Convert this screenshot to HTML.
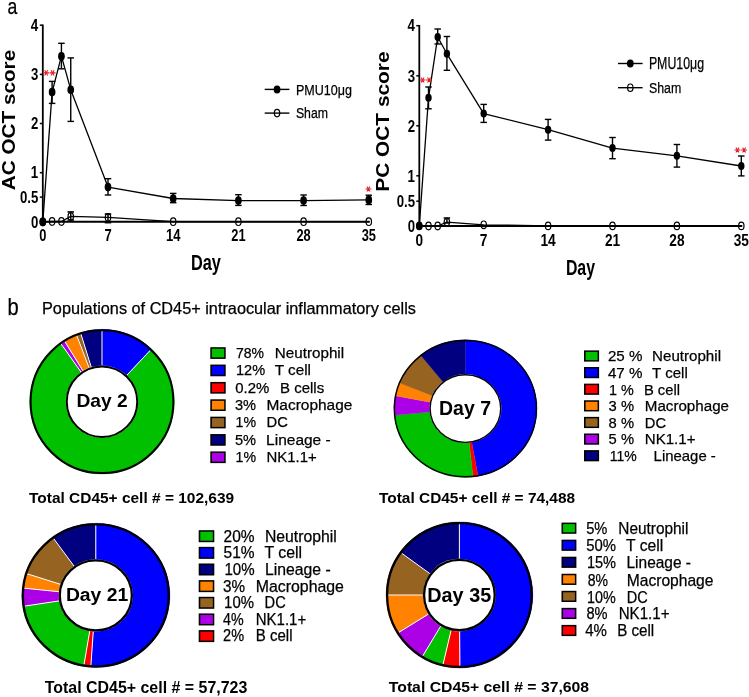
<!DOCTYPE html>
<html><head><meta charset="utf-8"><style>
html,body{margin:0;padding:0;background:#fff;}
body{width:749px;height:697px;overflow:hidden;}
svg{display:block;will-change:transform;font-family:"Liberation Sans",sans-serif;}
</style></head><body>
<svg width="749" height="697" viewBox="0 0 749 697">
<rect width="749" height="697" fill="#fff"/>
<text x="7.40" y="13.60" font-size="21.56" font-weight="normal" fill="#000" stroke="#000" stroke-width="0.25" textLength="9.79" lengthAdjust="spacingAndGlyphs">a</text>
<line x1="42.80" y1="24.50" x2="42.80" y2="222.80" stroke="#000" stroke-width="1.80" stroke-linecap="butt"/>
<line x1="39.80" y1="25.20" x2="42.80" y2="25.20" stroke="#000" stroke-width="1.50" stroke-linecap="butt"/>
<text x="30.87" y="30.95" font-size="16.72" font-weight="bold" fill="#000" textLength="7.44" lengthAdjust="spacingAndGlyphs">4</text>
<line x1="39.80" y1="74.40" x2="42.80" y2="74.40" stroke="#000" stroke-width="1.50" stroke-linecap="butt"/>
<text x="30.97" y="80.15" font-size="16.48" font-weight="bold" fill="#000" textLength="7.33" lengthAdjust="spacingAndGlyphs">3</text>
<line x1="39.80" y1="123.50" x2="42.80" y2="123.50" stroke="#000" stroke-width="1.50" stroke-linecap="butt"/>
<text x="30.97" y="129.25" font-size="16.48" font-weight="bold" fill="#000" textLength="7.33" lengthAdjust="spacingAndGlyphs">2</text>
<line x1="39.80" y1="172.70" x2="42.80" y2="172.70" stroke="#000" stroke-width="1.50" stroke-linecap="butt"/>
<text x="30.87" y="178.45" font-size="16.72" font-weight="bold" fill="#000" textLength="7.44" lengthAdjust="spacingAndGlyphs">1</text>
<line x1="39.80" y1="197.10" x2="42.80" y2="197.10" stroke="#000" stroke-width="1.50" stroke-linecap="butt"/>
<text x="19.98" y="202.85" font-size="16.48" font-weight="bold" fill="#000" textLength="18.32" lengthAdjust="spacingAndGlyphs">0.5</text>
<line x1="39.80" y1="221.80" x2="42.80" y2="221.80" stroke="#000" stroke-width="1.50" stroke-linecap="butt"/>
<text x="30.97" y="227.55" font-size="16.48" font-weight="bold" fill="#000" textLength="7.33" lengthAdjust="spacingAndGlyphs">0</text>
<line x1="42.30" y1="221.80" x2="369.79" y2="221.80" stroke="#000" stroke-width="2.00" stroke-linecap="butt"/>
<text x="39.23" y="241.00" font-size="16.05" font-weight="bold" fill="#000" textLength="7.14" lengthAdjust="spacingAndGlyphs">0</text>
<text x="104.38" y="241.00" font-size="16.28" font-weight="bold" fill="#000" textLength="7.24" lengthAdjust="spacingAndGlyphs">7</text>
<text x="165.96" y="241.00" font-size="16.28" font-weight="bold" fill="#000" textLength="14.49" lengthAdjust="spacingAndGlyphs">14</text>
<text x="231.26" y="241.00" font-size="16.05" font-weight="bold" fill="#000" textLength="14.28" lengthAdjust="spacingAndGlyphs">21</text>
<text x="296.45" y="241.00" font-size="16.05" font-weight="bold" fill="#000" textLength="14.28" lengthAdjust="spacingAndGlyphs">28</text>
<text x="361.65" y="241.00" font-size="16.05" font-weight="bold" fill="#000" textLength="14.28" lengthAdjust="spacingAndGlyphs">35</text>
<text transform="translate(15.10 190.20) rotate(-90)" x="0" y="0" font-size="18.48" font-weight="bold" fill="#000" textLength="140.41" lengthAdjust="spacingAndGlyphs">AC OCT score</text>
<text x="190.90" y="269.80" font-size="21.37" font-weight="bold" fill="#000" textLength="29.91" lengthAdjust="spacingAndGlyphs">Day</text>
<polyline points="42.80,221.80 52.11,221.50 61.43,221.50 70.74,216.40 108.00,217.40 173.20,221.70 238.39,221.70 303.59,221.70 368.79,221.70" fill="none" stroke="#000" stroke-width="1.30" stroke-linejoin="round"/>
<line x1="70.74" y1="211.90" x2="70.74" y2="220.00" stroke="#000" stroke-width="1.50" stroke-linecap="butt"/>
<line x1="67.49" y1="211.90" x2="73.99" y2="211.90" stroke="#000" stroke-width="1.50" stroke-linecap="butt"/>
<line x1="67.49" y1="220.00" x2="73.99" y2="220.00" stroke="#000" stroke-width="1.50" stroke-linecap="butt"/>
<line x1="108.00" y1="214.00" x2="108.00" y2="222.70" stroke="#000" stroke-width="1.50" stroke-linecap="butt"/>
<line x1="104.75" y1="214.00" x2="111.25" y2="214.00" stroke="#000" stroke-width="1.50" stroke-linecap="butt"/>
<line x1="104.75" y1="222.70" x2="111.25" y2="222.70" stroke="#000" stroke-width="1.50" stroke-linecap="butt"/>
<ellipse cx="42.80" cy="221.80" rx="2.70" ry="3.80" fill="none" stroke="#000" stroke-width="1.20"/>
<ellipse cx="52.11" cy="221.50" rx="2.70" ry="3.80" fill="none" stroke="#000" stroke-width="1.20"/>
<ellipse cx="61.43" cy="221.50" rx="2.70" ry="3.80" fill="none" stroke="#000" stroke-width="1.20"/>
<ellipse cx="70.74" cy="216.40" rx="2.70" ry="3.80" fill="none" stroke="#000" stroke-width="1.20"/>
<ellipse cx="108.00" cy="217.40" rx="2.70" ry="3.80" fill="none" stroke="#000" stroke-width="1.20"/>
<ellipse cx="173.20" cy="221.70" rx="2.70" ry="3.80" fill="none" stroke="#000" stroke-width="1.20"/>
<ellipse cx="238.39" cy="221.70" rx="2.70" ry="3.80" fill="none" stroke="#000" stroke-width="1.20"/>
<ellipse cx="303.59" cy="221.70" rx="2.70" ry="3.80" fill="none" stroke="#000" stroke-width="1.20"/>
<ellipse cx="368.79" cy="221.70" rx="2.70" ry="3.80" fill="none" stroke="#000" stroke-width="1.20"/>
<polyline points="42.80,221.90 52.11,92.10 61.43,56.20 70.74,89.70 108.00,187.10 173.20,198.50 238.39,200.60 303.59,200.60 368.79,199.90" fill="none" stroke="#000" stroke-width="1.30" stroke-linejoin="round"/>
<line x1="52.11" y1="81.40" x2="52.11" y2="103.40" stroke="#000" stroke-width="1.40" stroke-linecap="butt"/>
<line x1="48.86" y1="81.40" x2="55.36" y2="81.40" stroke="#000" stroke-width="1.40" stroke-linecap="butt"/>
<line x1="48.86" y1="103.40" x2="55.36" y2="103.40" stroke="#000" stroke-width="1.40" stroke-linecap="butt"/>
<line x1="61.43" y1="43.30" x2="61.43" y2="68.80" stroke="#000" stroke-width="1.40" stroke-linecap="butt"/>
<line x1="58.18" y1="43.30" x2="64.68" y2="43.30" stroke="#000" stroke-width="1.40" stroke-linecap="butt"/>
<line x1="58.18" y1="68.80" x2="64.68" y2="68.80" stroke="#000" stroke-width="1.40" stroke-linecap="butt"/>
<line x1="70.74" y1="57.90" x2="70.74" y2="121.40" stroke="#000" stroke-width="1.40" stroke-linecap="butt"/>
<line x1="67.49" y1="57.90" x2="73.99" y2="57.90" stroke="#000" stroke-width="1.40" stroke-linecap="butt"/>
<line x1="67.49" y1="121.40" x2="73.99" y2="121.40" stroke="#000" stroke-width="1.40" stroke-linecap="butt"/>
<line x1="108.00" y1="178.70" x2="108.00" y2="195.00" stroke="#000" stroke-width="1.40" stroke-linecap="butt"/>
<line x1="104.75" y1="178.70" x2="111.25" y2="178.70" stroke="#000" stroke-width="1.40" stroke-linecap="butt"/>
<line x1="104.75" y1="195.00" x2="111.25" y2="195.00" stroke="#000" stroke-width="1.40" stroke-linecap="butt"/>
<line x1="173.20" y1="193.40" x2="173.20" y2="202.70" stroke="#000" stroke-width="1.40" stroke-linecap="butt"/>
<line x1="169.95" y1="193.40" x2="176.45" y2="193.40" stroke="#000" stroke-width="1.40" stroke-linecap="butt"/>
<line x1="169.95" y1="202.70" x2="176.45" y2="202.70" stroke="#000" stroke-width="1.40" stroke-linecap="butt"/>
<line x1="238.39" y1="194.70" x2="238.39" y2="205.40" stroke="#000" stroke-width="1.40" stroke-linecap="butt"/>
<line x1="235.14" y1="194.70" x2="241.64" y2="194.70" stroke="#000" stroke-width="1.40" stroke-linecap="butt"/>
<line x1="235.14" y1="205.40" x2="241.64" y2="205.40" stroke="#000" stroke-width="1.40" stroke-linecap="butt"/>
<line x1="303.59" y1="195.00" x2="303.59" y2="205.50" stroke="#000" stroke-width="1.40" stroke-linecap="butt"/>
<line x1="300.34" y1="195.00" x2="306.84" y2="195.00" stroke="#000" stroke-width="1.40" stroke-linecap="butt"/>
<line x1="300.34" y1="205.50" x2="306.84" y2="205.50" stroke="#000" stroke-width="1.40" stroke-linecap="butt"/>
<line x1="368.79" y1="195.20" x2="368.79" y2="204.50" stroke="#000" stroke-width="1.40" stroke-linecap="butt"/>
<line x1="365.54" y1="195.20" x2="372.04" y2="195.20" stroke="#000" stroke-width="1.40" stroke-linecap="butt"/>
<line x1="365.54" y1="204.50" x2="372.04" y2="204.50" stroke="#000" stroke-width="1.40" stroke-linecap="butt"/>
<ellipse cx="42.80" cy="221.90" rx="3.35" ry="4.30" fill="#000" stroke="none" stroke-width="0.00"/>
<ellipse cx="52.11" cy="92.10" rx="3.35" ry="4.30" fill="#000" stroke="none" stroke-width="0.00"/>
<ellipse cx="61.43" cy="56.20" rx="3.35" ry="4.30" fill="#000" stroke="none" stroke-width="0.00"/>
<ellipse cx="70.74" cy="89.70" rx="3.35" ry="4.30" fill="#000" stroke="none" stroke-width="0.00"/>
<ellipse cx="108.00" cy="187.10" rx="3.35" ry="4.30" fill="#000" stroke="none" stroke-width="0.00"/>
<ellipse cx="173.20" cy="198.50" rx="3.35" ry="4.30" fill="#000" stroke="none" stroke-width="0.00"/>
<ellipse cx="238.39" cy="200.60" rx="3.35" ry="4.30" fill="#000" stroke="none" stroke-width="0.00"/>
<ellipse cx="303.59" cy="200.60" rx="3.35" ry="4.30" fill="#000" stroke="none" stroke-width="0.00"/>
<ellipse cx="368.79" cy="199.90" rx="3.35" ry="4.30" fill="#000" stroke="none" stroke-width="0.00"/>
<line x1="264.70" y1="89.40" x2="289.40" y2="89.40" stroke="#000" stroke-width="1.40" stroke-linecap="butt"/>
<ellipse cx="277.05" cy="89.40" rx="3.40" ry="4.00" fill="#000" stroke="none" stroke-width="0.00"/>
<line x1="264.70" y1="113.10" x2="289.40" y2="113.10" stroke="#000" stroke-width="1.40" stroke-linecap="butt"/>
<ellipse cx="277.05" cy="113.10" rx="2.70" ry="3.70" fill="none" stroke="#000" stroke-width="1.20"/>
<text x="295.90" y="94.80" font-size="15.47" font-weight="normal" fill="#000" stroke="#000" stroke-width="0.25" textLength="56.10" lengthAdjust="spacingAndGlyphs">PMU10μg</text>
<text x="295.90" y="118.00" font-size="14.62" font-weight="normal" fill="#000" stroke="#000" stroke-width="0.25" textLength="32.10" lengthAdjust="spacingAndGlyphs">Sham</text>
<path d="M43.20 72.90L49.20 72.90M44.70 70.30L47.70 75.50M47.70 70.30L44.70 75.50" stroke="#e41e26" stroke-width="1.10" fill="none"/>
<path d="M49.60 72.90L55.60 72.90M51.10 70.30L54.10 75.50M54.10 70.30L51.10 75.50" stroke="#e41e26" stroke-width="1.10" fill="none"/>
<path d="M365.40 189.00L371.40 189.00M366.90 186.40L369.90 191.60M369.90 186.40L366.90 191.60" stroke="#e41e26" stroke-width="1.10" fill="none"/>
<line x1="419.30" y1="25.00" x2="419.30" y2="226.90" stroke="#000" stroke-width="1.80" stroke-linecap="butt"/>
<line x1="416.30" y1="25.70" x2="419.30" y2="25.70" stroke="#000" stroke-width="1.50" stroke-linecap="butt"/>
<text x="407.57" y="31.45" font-size="16.72" font-weight="bold" fill="#000" textLength="7.44" lengthAdjust="spacingAndGlyphs">4</text>
<line x1="416.30" y1="75.80" x2="419.30" y2="75.80" stroke="#000" stroke-width="1.50" stroke-linecap="butt"/>
<text x="407.67" y="81.55" font-size="16.48" font-weight="bold" fill="#000" textLength="7.33" lengthAdjust="spacingAndGlyphs">3</text>
<line x1="416.30" y1="125.80" x2="419.30" y2="125.80" stroke="#000" stroke-width="1.50" stroke-linecap="butt"/>
<text x="407.67" y="131.55" font-size="16.48" font-weight="bold" fill="#000" textLength="7.33" lengthAdjust="spacingAndGlyphs">2</text>
<line x1="416.30" y1="175.80" x2="419.30" y2="175.80" stroke="#000" stroke-width="1.50" stroke-linecap="butt"/>
<text x="407.57" y="181.55" font-size="16.72" font-weight="bold" fill="#000" textLength="7.44" lengthAdjust="spacingAndGlyphs">1</text>
<line x1="416.30" y1="201.20" x2="419.30" y2="201.20" stroke="#000" stroke-width="1.50" stroke-linecap="butt"/>
<text x="396.68" y="206.95" font-size="16.48" font-weight="bold" fill="#000" textLength="18.32" lengthAdjust="spacingAndGlyphs">0.5</text>
<line x1="416.30" y1="225.90" x2="419.30" y2="225.90" stroke="#000" stroke-width="1.50" stroke-linecap="butt"/>
<text x="407.67" y="231.65" font-size="16.48" font-weight="bold" fill="#000" textLength="7.33" lengthAdjust="spacingAndGlyphs">0</text>
<line x1="418.80" y1="225.90" x2="742.30" y2="225.90" stroke="#000" stroke-width="2.00" stroke-linecap="butt"/>
<text x="415.51" y="245.90" font-size="17.05" font-weight="bold" fill="#000" textLength="7.59" lengthAdjust="spacingAndGlyphs">0</text>
<text x="479.85" y="245.90" font-size="17.30" font-weight="bold" fill="#000" textLength="7.70" lengthAdjust="spacingAndGlyphs">7</text>
<text x="540.41" y="245.90" font-size="17.30" font-weight="bold" fill="#000" textLength="15.39" lengthAdjust="spacingAndGlyphs">14</text>
<text x="604.92" y="245.90" font-size="17.05" font-weight="bold" fill="#000" textLength="15.17" lengthAdjust="spacingAndGlyphs">21</text>
<text x="669.32" y="245.90" font-size="17.05" font-weight="bold" fill="#000" textLength="15.17" lengthAdjust="spacingAndGlyphs">28</text>
<text x="733.72" y="245.90" font-size="17.05" font-weight="bold" fill="#000" textLength="15.17" lengthAdjust="spacingAndGlyphs">35</text>
<text transform="translate(388.80 191.70) rotate(-90)" x="0" y="0" font-size="17.77" font-weight="bold" fill="#000" textLength="140.30" lengthAdjust="spacingAndGlyphs">PC OCT score</text>
<text x="565.90" y="274.70" font-size="22.09" font-weight="bold" fill="#000" textLength="29.11" lengthAdjust="spacingAndGlyphs">Day</text>
<polyline points="419.30,225.90 428.50,226.00 437.70,226.00 446.90,222.10 483.70,224.80 548.10,225.90 612.50,225.90 676.90,225.90 741.30,225.90" fill="none" stroke="#000" stroke-width="1.30" stroke-linejoin="round"/>
<line x1="446.90" y1="218.00" x2="446.90" y2="223.00" stroke="#000" stroke-width="1.50" stroke-linecap="butt"/>
<line x1="443.65" y1="218.00" x2="450.15" y2="218.00" stroke="#000" stroke-width="1.50" stroke-linecap="butt"/>
<line x1="443.65" y1="223.00" x2="450.15" y2="223.00" stroke="#000" stroke-width="1.50" stroke-linecap="butt"/>
<ellipse cx="419.30" cy="225.90" rx="2.70" ry="3.80" fill="none" stroke="#000" stroke-width="1.20"/>
<ellipse cx="428.50" cy="226.00" rx="2.70" ry="3.80" fill="none" stroke="#000" stroke-width="1.20"/>
<ellipse cx="437.70" cy="226.00" rx="2.70" ry="3.80" fill="none" stroke="#000" stroke-width="1.20"/>
<ellipse cx="446.90" cy="222.10" rx="2.70" ry="3.80" fill="none" stroke="#000" stroke-width="1.20"/>
<ellipse cx="483.70" cy="224.80" rx="2.70" ry="3.80" fill="none" stroke="#000" stroke-width="1.20"/>
<ellipse cx="548.10" cy="225.90" rx="2.70" ry="3.80" fill="none" stroke="#000" stroke-width="1.20"/>
<ellipse cx="612.50" cy="225.90" rx="2.70" ry="3.80" fill="none" stroke="#000" stroke-width="1.20"/>
<ellipse cx="676.90" cy="225.90" rx="2.70" ry="3.80" fill="none" stroke="#000" stroke-width="1.20"/>
<ellipse cx="741.30" cy="225.90" rx="2.70" ry="3.80" fill="none" stroke="#000" stroke-width="1.20"/>
<polyline points="419.30,226.00 428.50,97.80 437.70,37.00 446.90,53.80 483.70,113.60 548.10,129.70 612.50,148.10 676.90,155.80 741.30,166.00" fill="none" stroke="#000" stroke-width="1.30" stroke-linejoin="round"/>
<line x1="428.50" y1="87.00" x2="428.50" y2="108.80" stroke="#000" stroke-width="1.40" stroke-linecap="butt"/>
<line x1="425.25" y1="87.00" x2="431.75" y2="87.00" stroke="#000" stroke-width="1.40" stroke-linecap="butt"/>
<line x1="425.25" y1="108.80" x2="431.75" y2="108.80" stroke="#000" stroke-width="1.40" stroke-linecap="butt"/>
<line x1="437.70" y1="29.00" x2="437.70" y2="44.00" stroke="#000" stroke-width="1.40" stroke-linecap="butt"/>
<line x1="434.45" y1="29.00" x2="440.95" y2="29.00" stroke="#000" stroke-width="1.40" stroke-linecap="butt"/>
<line x1="434.45" y1="44.00" x2="440.95" y2="44.00" stroke="#000" stroke-width="1.40" stroke-linecap="butt"/>
<line x1="446.90" y1="36.50" x2="446.90" y2="70.30" stroke="#000" stroke-width="1.40" stroke-linecap="butt"/>
<line x1="443.65" y1="36.50" x2="450.15" y2="36.50" stroke="#000" stroke-width="1.40" stroke-linecap="butt"/>
<line x1="443.65" y1="70.30" x2="450.15" y2="70.30" stroke="#000" stroke-width="1.40" stroke-linecap="butt"/>
<line x1="483.70" y1="104.40" x2="483.70" y2="122.40" stroke="#000" stroke-width="1.40" stroke-linecap="butt"/>
<line x1="480.45" y1="104.40" x2="486.95" y2="104.40" stroke="#000" stroke-width="1.40" stroke-linecap="butt"/>
<line x1="480.45" y1="122.40" x2="486.95" y2="122.40" stroke="#000" stroke-width="1.40" stroke-linecap="butt"/>
<line x1="548.10" y1="119.40" x2="548.10" y2="140.10" stroke="#000" stroke-width="1.40" stroke-linecap="butt"/>
<line x1="544.85" y1="119.40" x2="551.35" y2="119.40" stroke="#000" stroke-width="1.40" stroke-linecap="butt"/>
<line x1="544.85" y1="140.10" x2="551.35" y2="140.10" stroke="#000" stroke-width="1.40" stroke-linecap="butt"/>
<line x1="612.50" y1="137.50" x2="612.50" y2="158.70" stroke="#000" stroke-width="1.40" stroke-linecap="butt"/>
<line x1="609.25" y1="137.50" x2="615.75" y2="137.50" stroke="#000" stroke-width="1.40" stroke-linecap="butt"/>
<line x1="609.25" y1="158.70" x2="615.75" y2="158.70" stroke="#000" stroke-width="1.40" stroke-linecap="butt"/>
<line x1="676.90" y1="144.50" x2="676.90" y2="167.10" stroke="#000" stroke-width="1.40" stroke-linecap="butt"/>
<line x1="673.65" y1="144.50" x2="680.15" y2="144.50" stroke="#000" stroke-width="1.40" stroke-linecap="butt"/>
<line x1="673.65" y1="167.10" x2="680.15" y2="167.10" stroke="#000" stroke-width="1.40" stroke-linecap="butt"/>
<line x1="741.30" y1="156.00" x2="741.30" y2="175.90" stroke="#000" stroke-width="1.40" stroke-linecap="butt"/>
<line x1="738.05" y1="156.00" x2="744.55" y2="156.00" stroke="#000" stroke-width="1.40" stroke-linecap="butt"/>
<line x1="738.05" y1="175.90" x2="744.55" y2="175.90" stroke="#000" stroke-width="1.40" stroke-linecap="butt"/>
<ellipse cx="419.30" cy="226.00" rx="3.20" ry="4.00" fill="#000" stroke="none" stroke-width="0.00"/>
<ellipse cx="428.50" cy="97.80" rx="3.20" ry="4.00" fill="#000" stroke="none" stroke-width="0.00"/>
<ellipse cx="437.70" cy="37.00" rx="3.20" ry="4.00" fill="#000" stroke="none" stroke-width="0.00"/>
<ellipse cx="446.90" cy="53.80" rx="3.20" ry="4.00" fill="#000" stroke="none" stroke-width="0.00"/>
<ellipse cx="483.70" cy="113.60" rx="3.20" ry="4.00" fill="#000" stroke="none" stroke-width="0.00"/>
<ellipse cx="548.10" cy="129.70" rx="3.20" ry="4.00" fill="#000" stroke="none" stroke-width="0.00"/>
<ellipse cx="612.50" cy="148.10" rx="3.20" ry="4.00" fill="#000" stroke="none" stroke-width="0.00"/>
<ellipse cx="676.90" cy="155.80" rx="3.20" ry="4.00" fill="#000" stroke="none" stroke-width="0.00"/>
<ellipse cx="741.30" cy="166.00" rx="3.20" ry="4.00" fill="#000" stroke="none" stroke-width="0.00"/>
<line x1="618.00" y1="63.50" x2="642.60" y2="63.50" stroke="#000" stroke-width="1.40" stroke-linecap="butt"/>
<ellipse cx="630.30" cy="63.50" rx="3.40" ry="4.00" fill="#000" stroke="none" stroke-width="0.00"/>
<line x1="618.00" y1="87.70" x2="642.60" y2="87.70" stroke="#000" stroke-width="1.40" stroke-linecap="butt"/>
<ellipse cx="630.30" cy="87.70" rx="2.70" ry="3.70" fill="none" stroke="#000" stroke-width="1.20"/>
<text x="648.90" y="68.60" font-size="15.76" font-weight="normal" fill="#000" stroke="#000" stroke-width="0.25" textLength="55.10" lengthAdjust="spacingAndGlyphs">PMU10μg</text>
<text x="648.90" y="92.90" font-size="15.31" font-weight="normal" fill="#000" stroke="#000" stroke-width="0.25" textLength="32.30" lengthAdjust="spacingAndGlyphs">Sham</text>
<path d="M419.60 80.00L425.60 80.00M421.10 77.40L424.10 82.60M424.10 77.40L421.10 82.60" stroke="#e41e26" stroke-width="1.10" fill="none"/>
<path d="M426.00 80.00L432.00 80.00M427.50 77.40L430.50 82.60M430.50 77.40L427.50 82.60" stroke="#e41e26" stroke-width="1.10" fill="none"/>
<path d="M734.40 150.00L740.40 150.00M735.90 147.40L738.90 152.60M738.90 147.40L735.90 152.60" stroke="#e41e26" stroke-width="1.10" fill="none"/>
<path d="M741.10 150.00L747.10 150.00M742.60 147.40L745.60 152.60M745.60 147.40L742.60 152.60" stroke="#e41e26" stroke-width="1.10" fill="none"/>
<text x="7.50" y="314.80" font-size="24.00" font-weight="normal" fill="#000" stroke="#000" stroke-width="0.25" textLength="11.20" lengthAdjust="spacingAndGlyphs">b</text>
<text x="42.00" y="313.50" font-size="16.28" font-weight="normal" fill="#000" stroke="#000" stroke-width="0.25" textLength="373.90" lengthAdjust="spacingAndGlyphs">Populations of CD45+ intraocular inflammatory cells</text>
<path d="M102.000 329.300A72.400 72.400 0 0 1 151.561 348.923L126.815 375.275A36.250 36.250 0 0 0 102.000 365.450Z" fill="#0000ff" stroke="#0000ff" stroke-width="0.3"/>
<path d="M151.561 348.923A72.400 72.400 0 1 1 60.184 342.597L81.063 372.108A36.250 36.250 0 1 0 126.815 375.275Z" fill="#00c000" stroke="#00c000" stroke-width="0.3"/>
<path d="M60.184 342.597A72.400 72.400 0 0 1 63.977 340.088L82.962 370.851A36.250 36.250 0 0 0 81.063 372.108Z" fill="#ac00e6" stroke="#ac00e6" stroke-width="0.3"/>
<path d="M63.977 340.088A72.400 72.400 0 0 1 76.196 334.055L89.080 367.831A36.250 36.250 0 0 0 82.962 370.851Z" fill="#ff8200" stroke="#ff8200" stroke-width="0.3"/>
<path d="M76.196 334.055A72.400 72.400 0 0 1 80.494 332.568L91.232 367.086A36.250 36.250 0 0 0 89.080 367.831Z" fill="#966420" stroke="#966420" stroke-width="0.3"/>
<path d="M80.494 332.568A72.400 72.400 0 0 1 102.910 329.306L102.456 365.453A36.250 36.250 0 0 0 91.232 367.086Z" fill="#000080" stroke="#000080" stroke-width="0.3"/>
<line x1="102.00" y1="329.30" x2="102.00" y2="365.45" stroke="#fff" stroke-width="1.00" stroke-linecap="butt"/>
<line x1="151.56" y1="348.92" x2="126.81" y2="375.27" stroke="#fff" stroke-width="1.00" stroke-linecap="butt"/>
<line x1="60.18" y1="342.60" x2="81.06" y2="372.11" stroke="#fff" stroke-width="1.00" stroke-linecap="butt"/>
<line x1="63.98" y1="340.09" x2="82.96" y2="370.85" stroke="#fff" stroke-width="1.00" stroke-linecap="butt"/>
<line x1="76.20" y1="334.05" x2="89.08" y2="367.83" stroke="#fff" stroke-width="1.00" stroke-linecap="butt"/>
<line x1="80.49" y1="332.57" x2="91.23" y2="367.09" stroke="#fff" stroke-width="1.00" stroke-linecap="butt"/>
<ellipse cx="102.00" cy="401.70" rx="71.40" ry="71.40" fill="none" stroke="#000" stroke-width="2.00"/>
<ellipse cx="102.00" cy="401.70" rx="35.25" ry="35.25" fill="#fff" stroke="#000" stroke-width="2.00"/>
<text x="76.50" y="407.30" font-size="18.91" font-weight="bold" fill="#000" textLength="51.21" lengthAdjust="spacingAndGlyphs">Day 2</text>
<rect x="210.30" y="347.20" width="15.40" height="11.70" fill="#000"/>
<rect x="211.90" y="348.70" width="12.30" height="8.70" fill="#00c000"/>
<text x="236.00" y="357.80" font-size="15.04" font-weight="normal" fill="#000" stroke="#000" stroke-width="0.25" textLength="28.01" lengthAdjust="spacingAndGlyphs">78%</text>
<text x="274.80" y="357.80" font-size="15.04" font-weight="normal" fill="#000" stroke="#000" stroke-width="0.25" textLength="69.30" lengthAdjust="spacingAndGlyphs">Neutrophil</text>
<rect x="210.30" y="364.57" width="15.40" height="11.70" fill="#000"/>
<rect x="211.90" y="366.07" width="12.30" height="8.70" fill="#0000ff"/>
<text x="236.00" y="375.40" font-size="15.04" font-weight="normal" fill="#000" stroke="#000" stroke-width="0.25" textLength="29.11" lengthAdjust="spacingAndGlyphs">12%</text>
<text x="274.80" y="375.40" font-size="15.04" font-weight="normal" fill="#000" stroke="#000" stroke-width="0.25" textLength="36.20" lengthAdjust="spacingAndGlyphs">T cell</text>
<rect x="210.30" y="381.94" width="15.40" height="11.70" fill="#000"/>
<rect x="211.90" y="383.44" width="12.30" height="8.70" fill="#ff0000"/>
<text x="235.30" y="392.60" font-size="15.04" font-weight="normal" fill="#000" stroke="#000" stroke-width="0.25" textLength="34.00" lengthAdjust="spacingAndGlyphs">0.2%</text>
<text x="280.00" y="392.60" font-size="15.04" font-weight="normal" fill="#000" stroke="#000" stroke-width="0.25" textLength="44.20" lengthAdjust="spacingAndGlyphs">B cells</text>
<rect x="210.30" y="399.31" width="15.40" height="11.70" fill="#000"/>
<rect x="211.90" y="400.81" width="12.30" height="8.70" fill="#ff8200"/>
<text x="234.90" y="410.20" font-size="15.04" font-weight="normal" fill="#000" stroke="#000" stroke-width="0.25" textLength="21.10" lengthAdjust="spacingAndGlyphs">3%</text>
<text x="266.50" y="410.20" font-size="15.04" font-weight="normal" fill="#000" stroke="#000" stroke-width="0.25" textLength="85.90" lengthAdjust="spacingAndGlyphs">Macrophage</text>
<rect x="210.30" y="416.68" width="15.40" height="11.70" fill="#000"/>
<rect x="211.90" y="418.18" width="12.30" height="8.70" fill="#966420"/>
<text x="235.50" y="427.40" font-size="15.13" font-weight="normal" fill="#000" stroke="#000" stroke-width="0.25" textLength="20.50" lengthAdjust="spacingAndGlyphs">1%</text>
<text x="266.50" y="427.40" font-size="15.13" font-weight="normal" fill="#000" stroke="#000" stroke-width="0.25" textLength="21.31" lengthAdjust="spacingAndGlyphs">DC</text>
<rect x="210.30" y="434.05" width="15.40" height="11.70" fill="#000"/>
<rect x="211.90" y="435.55" width="12.30" height="8.70" fill="#000080"/>
<text x="234.90" y="444.60" font-size="15.13" font-weight="normal" fill="#000" stroke="#000" stroke-width="0.25" textLength="21.10" lengthAdjust="spacingAndGlyphs">5%</text>
<text x="266.10" y="444.60" font-size="15.13" font-weight="normal" fill="#000" stroke="#000" stroke-width="0.25" textLength="64.60" lengthAdjust="spacingAndGlyphs">Lineage -</text>
<rect x="210.30" y="451.42" width="15.40" height="11.70" fill="#000"/>
<rect x="211.90" y="452.92" width="12.30" height="8.70" fill="#ac00e6"/>
<text x="235.50" y="462.00" font-size="15.13" font-weight="normal" fill="#000" stroke="#000" stroke-width="0.25" textLength="20.50" lengthAdjust="spacingAndGlyphs">1%</text>
<text x="266.50" y="462.00" font-size="15.13" font-weight="normal" fill="#000" stroke="#000" stroke-width="0.25" textLength="50.30" lengthAdjust="spacingAndGlyphs">NK1.1+</text>
<text x="29.00" y="503.10" font-size="15.03" font-weight="bold" fill="#000" textLength="205.10" lengthAdjust="spacingAndGlyphs">Total CD45+ cell # = 102,639</text>
<path d="M465.400 339.750A71.700 68.850 0 0 1 478.097 476.362L471.775 442.555A36.000 34.500 0 0 0 465.400 374.100Z" fill="#0000ff" stroke="#0000ff" stroke-width="0.3"/>
<path d="M478.097 476.362A71.700 68.850 0 0 1 473.019 477.060L469.226 442.905A36.000 34.500 0 0 0 471.775 442.555Z" fill="#ff0000" stroke="#ff0000" stroke-width="0.3"/>
<path d="M473.019 477.060A71.700 68.850 0 0 1 394.042 415.319L429.572 411.967A36.000 34.500 0 0 0 469.226 442.905Z" fill="#00c000" stroke="#00c000" stroke-width="0.3"/>
<path d="M394.042 415.319A71.700 68.850 0 0 1 394.970 395.699L430.038 402.135A36.000 34.500 0 0 0 429.572 411.967Z" fill="#ac00e6" stroke="#ac00e6" stroke-width="0.3"/>
<path d="M394.970 395.699A71.700 68.850 0 0 1 398.921 382.808L432.021 395.676A36.000 34.500 0 0 0 430.038 402.135Z" fill="#ff8200" stroke="#ff8200" stroke-width="0.3"/>
<path d="M398.921 382.808A71.700 68.850 0 0 1 420.473 354.943L442.842 381.713A36.000 34.500 0 0 0 432.021 395.676Z" fill="#966420" stroke="#966420" stroke-width="0.3"/>
<path d="M420.473 354.943A71.700 68.850 0 0 1 465.400 339.750L465.400 374.100A36.000 34.500 0 0 0 442.842 381.713Z" fill="#000080" stroke="#000080" stroke-width="0.3"/>
<ellipse cx="465.40" cy="408.60" rx="71.00" ry="68.15" fill="none" stroke="#000" stroke-width="1.40"/>
<ellipse cx="465.40" cy="408.60" rx="35.30" ry="33.80" fill="#fff" stroke="#000" stroke-width="1.40"/>
<text x="439.00" y="414.50" font-size="19.33" font-weight="bold" fill="#000" textLength="52.01" lengthAdjust="spacingAndGlyphs">Day 7</text>
<rect x="584.00" y="350.40" width="15.10" height="11.20" fill="#000"/>
<rect x="585.60" y="351.90" width="12.00" height="8.20" fill="#00c000"/>
<text x="607.90" y="361.20" font-size="15.47" font-weight="normal" fill="#000" stroke="#000" stroke-width="0.25" textLength="34.50" lengthAdjust="spacingAndGlyphs">25 %</text>
<text x="652.10" y="361.20" font-size="15.47" font-weight="normal" fill="#000" stroke="#000" stroke-width="0.25" textLength="68.90" lengthAdjust="spacingAndGlyphs">Neutrophil</text>
<rect x="584.00" y="367.02" width="15.10" height="11.20" fill="#000"/>
<rect x="585.60" y="368.52" width="12.00" height="8.20" fill="#0000ff"/>
<text x="607.90" y="377.85" font-size="15.56" font-weight="normal" fill="#000" stroke="#000" stroke-width="0.25" textLength="34.50" lengthAdjust="spacingAndGlyphs">47 %</text>
<text x="652.10" y="377.85" font-size="15.56" font-weight="normal" fill="#000" stroke="#000" stroke-width="0.25" textLength="35.70" lengthAdjust="spacingAndGlyphs">T cell</text>
<rect x="584.00" y="383.64" width="15.10" height="11.20" fill="#000"/>
<rect x="585.60" y="385.14" width="12.00" height="8.20" fill="#ff0000"/>
<text x="609.00" y="394.50" font-size="15.56" font-weight="normal" fill="#000" stroke="#000" stroke-width="0.25" textLength="24.70" lengthAdjust="spacingAndGlyphs">1 %</text>
<text x="643.90" y="394.50" font-size="15.56" font-weight="normal" fill="#000" stroke="#000" stroke-width="0.25" textLength="36.10" lengthAdjust="spacingAndGlyphs">B cell</text>
<rect x="584.00" y="400.26" width="15.10" height="11.20" fill="#000"/>
<rect x="585.60" y="401.76" width="12.00" height="8.20" fill="#ff8200"/>
<text x="608.60" y="411.15" font-size="15.47" font-weight="normal" fill="#000" stroke="#000" stroke-width="0.25" textLength="25.40" lengthAdjust="spacingAndGlyphs">3 %</text>
<text x="644.80" y="411.15" font-size="15.47" font-weight="normal" fill="#000" stroke="#000" stroke-width="0.25" textLength="84.20" lengthAdjust="spacingAndGlyphs">Macrophage</text>
<rect x="584.00" y="416.88" width="15.10" height="11.20" fill="#000"/>
<rect x="585.60" y="418.38" width="12.00" height="8.20" fill="#966420"/>
<text x="608.60" y="427.80" font-size="15.47" font-weight="normal" fill="#000" stroke="#000" stroke-width="0.25" textLength="25.40" lengthAdjust="spacingAndGlyphs">8 %</text>
<text x="644.80" y="427.80" font-size="15.47" font-weight="normal" fill="#000" stroke="#000" stroke-width="0.25" textLength="21.21" lengthAdjust="spacingAndGlyphs">DC</text>
<rect x="584.00" y="433.50" width="15.10" height="11.20" fill="#000"/>
<rect x="585.60" y="435.00" width="12.00" height="8.20" fill="#ac00e6"/>
<text x="608.60" y="444.45" font-size="15.56" font-weight="normal" fill="#000" stroke="#000" stroke-width="0.25" textLength="25.40" lengthAdjust="spacingAndGlyphs">5 %</text>
<text x="644.80" y="444.45" font-size="15.56" font-weight="normal" fill="#000" stroke="#000" stroke-width="0.25" textLength="50.70" lengthAdjust="spacingAndGlyphs">NK1.1+</text>
<rect x="584.00" y="450.12" width="15.10" height="11.20" fill="#000"/>
<rect x="585.60" y="451.62" width="12.00" height="8.20" fill="#000080"/>
<text x="609.80" y="461.10" font-size="15.56" font-weight="normal" fill="#000" stroke="#000" stroke-width="0.25" textLength="27.00" lengthAdjust="spacingAndGlyphs">11%</text>
<text x="653.60" y="461.10" font-size="15.56" font-weight="normal" fill="#000" stroke="#000" stroke-width="0.25" textLength="62.20" lengthAdjust="spacingAndGlyphs">Lineage -</text>
<text x="379.00" y="503.40" font-size="14.62" font-weight="bold" fill="#000" textLength="196.10" lengthAdjust="spacingAndGlyphs">Total CD45+ cell # = 74,488</text>
<path d="M95.800 523.300A74.100 72.100 0 1 1 90.760 667.333L93.270 631.466A37.200 36.150 0 1 0 95.800 559.250Z" fill="#0000ff" stroke="#0000ff" stroke-width="0.3"/>
<path d="M90.760 667.333A74.100 72.100 0 0 1 83.698 666.532L89.724 631.065A37.200 36.150 0 0 0 93.270 631.466Z" fill="#ff0000" stroke="#ff0000" stroke-width="0.3"/>
<path d="M83.698 666.532A74.100 72.100 0 0 1 22.572 606.430L59.038 600.930A37.200 36.150 0 0 0 89.724 631.065Z" fill="#00c000" stroke="#00c000" stroke-width="0.3"/>
<path d="M22.572 606.430A74.100 72.100 0 0 1 22.093 587.989L58.797 591.684A37.200 36.150 0 0 0 59.038 600.930Z" fill="#ac00e6" stroke="#ac00e6" stroke-width="0.3"/>
<path d="M22.093 587.989A74.100 72.100 0 0 1 25.287 573.240L60.401 584.289A37.200 36.150 0 0 0 58.797 591.684Z" fill="#ff8200" stroke="#ff8200" stroke-width="0.3"/>
<path d="M25.287 573.240A74.100 72.100 0 0 1 52.455 536.922L74.040 566.080A37.200 36.150 0 0 0 60.401 584.289Z" fill="#966420" stroke="#966420" stroke-width="0.3"/>
<path d="M52.455 536.922A74.100 72.100 0 0 1 95.800 523.300L95.800 559.250A37.200 36.150 0 0 0 74.040 566.080Z" fill="#000080" stroke="#000080" stroke-width="0.3"/>
<line x1="95.80" y1="523.30" x2="95.80" y2="559.25" stroke="#fff" stroke-width="1.00" stroke-linecap="butt"/>
<line x1="90.76" y1="667.33" x2="93.27" y2="631.47" stroke="#fff" stroke-width="1.00" stroke-linecap="butt"/>
<line x1="83.70" y1="666.53" x2="89.72" y2="631.06" stroke="#fff" stroke-width="1.00" stroke-linecap="butt"/>
<line x1="22.57" y1="606.43" x2="59.04" y2="600.93" stroke="#fff" stroke-width="1.00" stroke-linecap="butt"/>
<line x1="22.09" y1="587.99" x2="58.80" y2="591.68" stroke="#fff" stroke-width="1.00" stroke-linecap="butt"/>
<line x1="25.29" y1="573.24" x2="60.40" y2="584.29" stroke="#fff" stroke-width="1.00" stroke-linecap="butt"/>
<line x1="52.45" y1="536.92" x2="74.04" y2="566.08" stroke="#fff" stroke-width="1.00" stroke-linecap="butt"/>
<ellipse cx="95.80" cy="595.40" rx="72.95" ry="70.95" fill="none" stroke="#000" stroke-width="2.30"/>
<ellipse cx="95.80" cy="595.40" rx="36.05" ry="35.00" fill="#fff" stroke="#000" stroke-width="2.30"/>
<text x="65.90" y="601.30" font-size="19.20" font-weight="bold" fill="#000" textLength="62.29" lengthAdjust="spacingAndGlyphs">Day 21</text>
<rect x="198.70" y="530.20" width="15.60" height="12.00" fill="#000"/>
<rect x="200.30" y="531.70" width="12.50" height="9.00" fill="#00c000"/>
<text x="223.60" y="541.80" font-size="15.62" font-weight="normal" fill="#000" stroke="#000" stroke-width="0.25" textLength="31.01" lengthAdjust="spacingAndGlyphs">20%</text>
<text x="264.90" y="541.80" font-size="15.62" font-weight="normal" fill="#000" stroke="#000" stroke-width="0.25" textLength="71.80" lengthAdjust="spacingAndGlyphs">Neutrophil</text>
<rect x="198.70" y="546.85" width="15.60" height="12.00" fill="#000"/>
<rect x="200.30" y="548.35" width="12.50" height="9.00" fill="#0000ff"/>
<text x="223.60" y="558.40" font-size="15.71" font-weight="normal" fill="#000" stroke="#000" stroke-width="0.25" textLength="31.01" lengthAdjust="spacingAndGlyphs">51%</text>
<text x="264.50" y="558.40" font-size="15.71" font-weight="normal" fill="#000" stroke="#000" stroke-width="0.25" textLength="37.60" lengthAdjust="spacingAndGlyphs">T cell</text>
<rect x="198.70" y="563.50" width="15.60" height="12.00" fill="#000"/>
<rect x="200.30" y="565.00" width="12.50" height="9.00" fill="#000080"/>
<text x="224.50" y="574.90" font-size="15.62" font-weight="normal" fill="#000" stroke="#000" stroke-width="0.25" textLength="30.11" lengthAdjust="spacingAndGlyphs">10%</text>
<text x="264.90" y="574.90" font-size="15.62" font-weight="normal" fill="#000" stroke="#000" stroke-width="0.25" textLength="65.80" lengthAdjust="spacingAndGlyphs">Lineage -</text>
<rect x="198.70" y="580.15" width="15.60" height="12.00" fill="#000"/>
<rect x="200.30" y="581.65" width="12.50" height="9.00" fill="#ff8200"/>
<text x="223.10" y="591.50" font-size="15.62" font-weight="normal" fill="#000" stroke="#000" stroke-width="0.25" textLength="22.00" lengthAdjust="spacingAndGlyphs">3%</text>
<text x="255.80" y="591.50" font-size="15.62" font-weight="normal" fill="#000" stroke="#000" stroke-width="0.25" textLength="88.10" lengthAdjust="spacingAndGlyphs">Macrophage</text>
<rect x="198.70" y="596.80" width="15.60" height="12.00" fill="#000"/>
<rect x="200.30" y="598.30" width="12.50" height="9.00" fill="#966420"/>
<text x="224.10" y="608.00" font-size="15.62" font-weight="normal" fill="#000" stroke="#000" stroke-width="0.25" textLength="29.81" lengthAdjust="spacingAndGlyphs">10%</text>
<text x="264.60" y="608.00" font-size="15.62" font-weight="normal" fill="#000" stroke="#000" stroke-width="0.25" textLength="21.11" lengthAdjust="spacingAndGlyphs">DC</text>
<rect x="198.70" y="613.45" width="15.60" height="12.00" fill="#000"/>
<rect x="200.30" y="614.95" width="12.50" height="9.00" fill="#ac00e6"/>
<text x="223.10" y="624.60" font-size="15.71" font-weight="normal" fill="#000" stroke="#000" stroke-width="0.25" textLength="20.60" lengthAdjust="spacingAndGlyphs">4%</text>
<text x="255.80" y="624.60" font-size="15.71" font-weight="normal" fill="#000" stroke="#000" stroke-width="0.25" textLength="50.40" lengthAdjust="spacingAndGlyphs">NK1.1+</text>
<rect x="198.70" y="630.10" width="15.60" height="12.00" fill="#000"/>
<rect x="200.30" y="631.60" width="12.50" height="9.00" fill="#ff0000"/>
<text x="223.10" y="641.10" font-size="15.62" font-weight="normal" fill="#000" stroke="#000" stroke-width="0.25" textLength="21.00" lengthAdjust="spacingAndGlyphs">2%</text>
<text x="255.80" y="641.10" font-size="15.62" font-weight="normal" fill="#000" stroke="#000" stroke-width="0.25" textLength="36.70" lengthAdjust="spacingAndGlyphs">B cell</text>
<text x="44.70" y="692.90" font-size="16.14" font-weight="bold" fill="#000" textLength="202.60" lengthAdjust="spacingAndGlyphs">Total CD45+ cell # = 57,723</text>
<path d="M459.400 521.900A73.450 73.100 0 0 1 459.913 668.098L459.655 631.349A36.500 36.350 0 0 0 459.400 558.650Z" fill="#0000ff" stroke="#0000ff" stroke-width="0.3"/>
<path d="M459.913 668.098A73.450 73.100 0 0 1 442.628 666.169L451.065 630.390A36.500 36.350 0 0 0 459.655 631.349Z" fill="#ff0000" stroke="#ff0000" stroke-width="0.3"/>
<path d="M442.628 666.169A73.450 73.100 0 0 1 421.680 657.725L440.656 626.191A36.500 36.350 0 0 0 451.065 630.390Z" fill="#00c000" stroke="#00c000" stroke-width="0.3"/>
<path d="M421.680 657.725A73.450 73.100 0 0 1 396.975 633.520L428.379 614.155A36.500 36.350 0 0 0 440.656 626.191Z" fill="#ac00e6" stroke="#ac00e6" stroke-width="0.3"/>
<path d="M396.975 633.520A73.450 73.100 0 0 1 385.950 595.000L422.900 595.000A36.500 36.350 0 0 0 428.379 614.155Z" fill="#ff8200" stroke="#ff8200" stroke-width="0.3"/>
<path d="M385.950 595.000A73.450 73.100 0 0 1 399.978 552.033L429.871 573.634A36.500 36.350 0 0 0 422.900 595.000Z" fill="#966420" stroke="#966420" stroke-width="0.3"/>
<path d="M399.978 552.033A73.450 73.100 0 0 1 459.400 521.900L459.400 558.650A36.500 36.350 0 0 0 429.871 573.634Z" fill="#000080" stroke="#000080" stroke-width="0.3"/>
<line x1="459.40" y1="521.90" x2="459.40" y2="558.65" stroke="#fff" stroke-width="1.00" stroke-linecap="butt"/>
<line x1="459.91" y1="668.10" x2="459.65" y2="631.35" stroke="#fff" stroke-width="1.00" stroke-linecap="butt"/>
<line x1="442.63" y1="666.17" x2="451.07" y2="630.39" stroke="#fff" stroke-width="1.00" stroke-linecap="butt"/>
<line x1="421.68" y1="657.72" x2="440.66" y2="626.19" stroke="#fff" stroke-width="1.00" stroke-linecap="butt"/>
<line x1="396.98" y1="633.52" x2="428.38" y2="614.15" stroke="#fff" stroke-width="1.00" stroke-linecap="butt"/>
<line x1="385.95" y1="595.00" x2="422.90" y2="595.00" stroke="#fff" stroke-width="1.00" stroke-linecap="butt"/>
<line x1="399.98" y1="552.03" x2="429.87" y2="573.63" stroke="#fff" stroke-width="1.00" stroke-linecap="butt"/>
<ellipse cx="459.40" cy="595.00" rx="72.30" ry="71.95" fill="none" stroke="#000" stroke-width="2.30"/>
<ellipse cx="459.40" cy="595.00" rx="35.35" ry="35.20" fill="#fff" stroke="#000" stroke-width="2.30"/>
<text x="427.30" y="601.70" font-size="20.49" font-weight="bold" fill="#000" textLength="63.89" lengthAdjust="spacingAndGlyphs">Day 35</text>
<rect x="561.50" y="522.60" width="14.90" height="11.20" fill="#000"/>
<rect x="563.10" y="524.10" width="11.80" height="8.20" fill="#00c000"/>
<text x="586.20" y="533.50" font-size="15.85" font-weight="normal" fill="#000" stroke="#000" stroke-width="0.25" textLength="21.20" lengthAdjust="spacingAndGlyphs">5%</text>
<text x="618.30" y="533.50" font-size="15.85" font-weight="normal" fill="#000" stroke="#000" stroke-width="0.25" textLength="70.10" lengthAdjust="spacingAndGlyphs">Neutrophil</text>
<rect x="561.50" y="539.65" width="14.90" height="11.20" fill="#000"/>
<rect x="563.10" y="541.15" width="11.80" height="8.20" fill="#0000ff"/>
<text x="586.20" y="550.90" font-size="15.76" font-weight="normal" fill="#000" stroke="#000" stroke-width="0.25" textLength="29.81" lengthAdjust="spacingAndGlyphs">50%</text>
<text x="626.10" y="550.90" font-size="15.76" font-weight="normal" fill="#000" stroke="#000" stroke-width="0.25" textLength="37.20" lengthAdjust="spacingAndGlyphs">T cell</text>
<rect x="561.50" y="556.70" width="14.90" height="11.20" fill="#000"/>
<rect x="563.10" y="558.20" width="11.80" height="8.20" fill="#000080"/>
<text x="586.90" y="568.30" font-size="15.85" font-weight="normal" fill="#000" stroke="#000" stroke-width="0.25" textLength="29.11" lengthAdjust="spacingAndGlyphs">15%</text>
<text x="626.50" y="568.30" font-size="15.85" font-weight="normal" fill="#000" stroke="#000" stroke-width="0.25" textLength="64.50" lengthAdjust="spacingAndGlyphs">Lineage -</text>
<rect x="561.50" y="573.75" width="14.90" height="11.20" fill="#000"/>
<rect x="563.10" y="575.25" width="11.80" height="8.20" fill="#ff8200"/>
<text x="587.80" y="585.80" font-size="15.76" font-weight="normal" fill="#000" stroke="#000" stroke-width="0.25" textLength="20.30" lengthAdjust="spacingAndGlyphs">8%</text>
<text x="626.70" y="585.80" font-size="15.76" font-weight="normal" fill="#000" stroke="#000" stroke-width="0.25" textLength="86.80" lengthAdjust="spacingAndGlyphs">Macrophage</text>
<rect x="561.50" y="590.80" width="14.90" height="11.20" fill="#000"/>
<rect x="563.10" y="592.30" width="11.80" height="8.20" fill="#966420"/>
<text x="587.00" y="602.80" font-size="15.76" font-weight="normal" fill="#000" stroke="#000" stroke-width="0.25" textLength="28.71" lengthAdjust="spacingAndGlyphs">10%</text>
<text x="626.70" y="602.80" font-size="15.76" font-weight="normal" fill="#000" stroke="#000" stroke-width="0.25" textLength="21.00" lengthAdjust="spacingAndGlyphs">DC</text>
<rect x="561.50" y="607.85" width="14.90" height="11.20" fill="#000"/>
<rect x="563.10" y="609.35" width="11.80" height="8.20" fill="#ac00e6"/>
<text x="586.50" y="619.30" font-size="15.76" font-weight="normal" fill="#000" stroke="#000" stroke-width="0.25" textLength="21.10" lengthAdjust="spacingAndGlyphs">8%</text>
<text x="618.70" y="619.30" font-size="15.76" font-weight="normal" fill="#000" stroke="#000" stroke-width="0.25" textLength="50.80" lengthAdjust="spacingAndGlyphs">NK1.1+</text>
<rect x="561.50" y="624.90" width="14.90" height="11.20" fill="#000"/>
<rect x="563.10" y="626.40" width="11.80" height="8.20" fill="#ff0000"/>
<text x="585.20" y="635.80" font-size="15.85" font-weight="normal" fill="#000" stroke="#000" stroke-width="0.25" textLength="21.70" lengthAdjust="spacingAndGlyphs">4%</text>
<text x="617.20" y="635.80" font-size="15.85" font-weight="normal" fill="#000" stroke="#000" stroke-width="0.25" textLength="37.00" lengthAdjust="spacingAndGlyphs">B cell</text>
<text x="388.80" y="692.00" font-size="14.90" font-weight="bold" fill="#000" textLength="200.30" lengthAdjust="spacingAndGlyphs">Total CD45+ cell # = 37,608</text>
</svg>
</body></html>
